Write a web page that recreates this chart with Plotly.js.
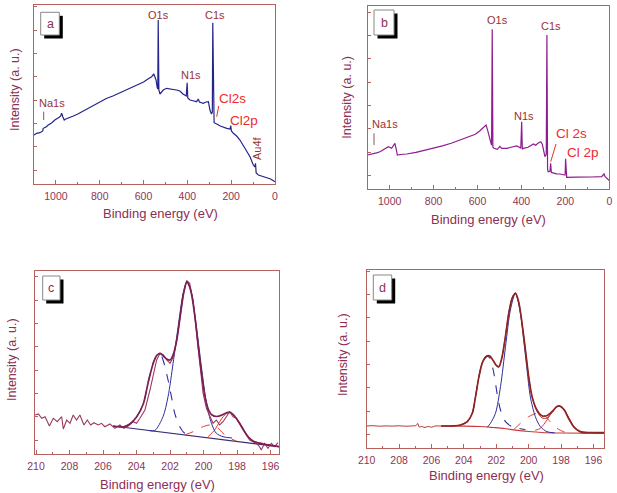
<!DOCTYPE html>
<html><head><meta charset="utf-8">
<script src="https://cdn.plot.ly/plotly-3.0.1.min.js"></script>
<style>html,body{margin:0;padding:0;background:#fff}#chart{width:617px;height:493px}</style>
</head><body><div id="chart"></div>
<script>
// ---------- Panel a: survey spectrum ----------
const surveyA_eV = [1100,1088,1073,1060,1058,1045,1035,1020,1005,995,985,978,974,968,962,955,944,920,900,880,860,840,814,790,770,740,720,700,680,662,640,620,600,580,563,553,548,543,538,535,533,530,525,510,495,470,450,434,420,405,401,398,388,370,358,350,345,327,315,304,297,290,286,284,281,278,266,250,220,205,202,199,190,175,160,145,130,114,99,92,89,86,76,60,45,38,20,0];
const surveyA_I  = [49,50.7,51.3,53,55.7,57,59,61,64,65,66.7,68,70.7,67,64,65,65.7,68,70,72.5,75,77,80.7,83,85.5,88,90,92,94,95.7,98,100,102,105,107.3,110,107,104,97,95,164,94,90,94,95.7,95,94,93,90,88,101.3,86,84,83,82.3,85,82,80.7,82,82.3,74,70,72,161.3,63,61.3,60,58,55.7,55,58.5,53,50.7,48,44,39,34,27.3,19,17,20.7,11,9,8,7,6.3,5,2.3];

// ---------- Panel b: survey spectrum ----------
const surveyB_eV = [1100,1085,1075,1060,1044,1025,1006,991,982,976,970,965,950,923,880,840,801,760,720,680,640,610,589,570,561,555,546,540,536,533,530,525,510,498,490,467,445,422,410,403,399,396,392,370,346,335,325,312,305,301,293,287,284,281,278,270,267,264,261,240,224,205,201,199,197,194,150,118,80,35,27,24,20,15,0];
const surveyB_I  = [34.3,35,35.3,36.5,37.6,40,42.6,41,44,46,40,34.3,34.8,35.3,37,39,41,43.5,46,49.3,52,55,58.6,62,64.3,60,51,48,44,160,42,41,40,43,41,41,42,43.3,42,41,67.6,40,41,42,45.3,44,46,47.6,45,41,32.6,35,154.3,20,17.6,18,26,17,16.6,15.5,15.3,14.3,14.3,30.6,13,12,12.2,12,12.3,12.6,14,15.3,13,12,8.6];

// ---------- Panel c: Cl 2p high resolution ----------
const c_raw_eV = [210.06,209.86,209.66,209.46,209.2,208.97,208.73,208.47,208.37,208.17,207.97,207.78,207.58,207.38,207.14,206.94,206.74,206.54,206.29,206.09,205.89,205.59,205.29,205.0,204.76,204.5,204.2,204.0,203.8,203.5,203.2,203.0,202.8,202.6,202.4,202.2,202.0,201.8,201.6,201.4,201.2,201.0,200.83,200.63,200.43,200.23,200.03,199.83,199.63,199.44,199.24,199.04,198.84,198.64,198.44,198.24,198.05,197.85,197.65,197.45,197.25,197.05,196.85,196.66,196.56,196.36,196.16,195.96,195.76,195.56];
const c_raw_I  = [39,40,35.7,37.3,28,35.7,32.3,37.3,25,34,30.7,39,34,39,29,34,29,31.3,29,30.7,27.3,30,25.7,29,25.7,28,32.3,30.7,35.7,44,64,79,94,100.7,99,94,90.7,97.3,114,137.3,160.7,173.3,170.7,154,120.7,87.3,60.7,45.7,37.3,30.7,34,29,32.3,37.3,42.3,37.3,35.7,30.7,25.7,19,14,12.3,10.7,7.3,4,10.7,5.7,10.7,7.3,11.3];
const c_env_eV = [205.4,204.8,204.4,204.0,203.6,203.3,203.0,202.8,202.6,202.4,202.2,202.0,201.8,201.6,201.4,201.2,201.0,200.85,200.7,200.5,200.3,200.1,199.9,199.7,199.5,199.2,198.9,198.6,198.45,198.2,197.9,197.6,197.3,197.0,196.6,196.0,195.5];
const c_env_I  = [28,27,30,37,50,72,91,98.5,100.7,98,95,94,100,114,137,160,172.3,168,158,135,105,78,56,44,39,37.5,39,41.5,42,39,32,23.5,16.5,12.5,10.5,8.7,7.3];
const c_p1_eV = [203.3,202.91,202.42,202.12,201.82,201.52,201.22,200.99,200.72,200.43,200.13,199.83,199.53,199.24,198.84,198.3];
const c_p1_I  = [23.5,23.5,37.3,57.3,90.7,127.3,160.7,172.3,160.7,127.3,87.3,50.7,30.7,20.7,17.3,16];
const c_p2_eV = [204.8,204.4,204.0,203.6,203.31,203.01,202.81,202.61,202.42,202.12,201.92,201.72,201.42,201.12,200.8];
const c_p2_I  = [27,30,37,50,72,91,98,100.7,94,74,57.3,40.7,27.3,20.7,19.5];
const c_p3_eV = [201.12,200.63,200.13,199.63,199.24,198.84,198.44,198.04];
const c_p3_I  = [19,22.3,26.7,29,27.3,20.7,15.7,13];
const c_p4_eV = [199.73,199.34,199.04,198.74,198.48,198.14,197.75,197.35,196.95,196.46];
const c_p4_I  = [17.3,24,32.3,39,41.3,37.3,27.3,17.3,12.3,10.7];
const c_base_eV = [205.4,195.5];
const c_base_I  = [28,7.3];

// ---------- Panel d: Cl 2p high resolution ----------
const d_raw_eV = [210,209.6,209.2,208.8,208.4,208.0,207.6,207.2,206.95,206.86,206.75,206.6,206.4,206.2,206.0,205.8,205.4,204.9,204.5,204.2,203.79,203.48,203.28,203.07,202.85,202.6,202.4,202.2,202.0,201.84,201.66,201.45,201.23,201.02,200.82,200.62,200.41,200.2,200.0,199.79,199.49,199.18,198.9,198.56,198.26,198.08,197.8,197.54,197.23,196.82,196.5,196.21,195.8,195.35];
const d_raw_I  = [22.3,22.6,22.1,22.4,22.2,22.5,22.1,22.4,22.8,25,21.3,21.8,20.8,21.9,21,22.2,22.3,22.2,22.6,23.5,27,35.5,52,72,86.5,92.5,92,87.5,82.5,81,90.5,110.5,135.5,150.5,155.5,146,124.5,98,71,51,37,30.5,30,35.5,41.5,42.5,38.5,30.5,21.5,16.5,15.2,15.9,15.3,15.4];
const d_env_eV = [205.4,204.6,204.2,203.79,203.48,203.28,203.07,202.85,202.6,202.4,202.2,202.0,201.84,201.66,201.45,201.23,201.02,200.82,200.62,200.41,200.2,200.0,199.79,199.49,199.18,198.9,198.56,198.26,198.08,197.8,197.54,197.23,196.82,196.21,195.35];
const d_env_I  = [22.3,22.5,23.3,26.7,35,51.7,71.7,86,92,92.3,88,83,81.7,90,110,135,150,155,146.7,125,98.3,71.7,51.7,38.3,32.5,32.5,36.7,41.7,42.3,38.3,30,21.7,16.7,15.7,15.6];
const d_p1_eV = [202.56,202.36,202.05,201.74,201.43,201.13,200.82,200.51,200.31,200.1,199.9,199.59,199.28,198.87,198.4];
const d_p1_I  = [21,25,35,61.6,101.6,138.3,155,135,108.3,78.3,51.7,31.7,21.7,16.6,15.5];
const d_p2_eV = [204.2,203.79,203.48,203.28,203.07,202.85,202.6,202.4,202.15,201.95,201.74,201.43,201.02,200.61,200.2];
const d_p2_I  = [23.3,26.7,35,51.7,71.7,86,91.6,90.5,75,55,38.3,26.6,21.6,20,18.5];
const d_p3_eV = [200.9,200.51,200.0,199.48,199.08,198.67,198.25,197.85,197.5];
const d_p3_I  = [19,25,31.6,35,33.3,26.6,20,16.6,15.5];
const d_p4_eV = [199.6,199.28,198.87,198.56,198.25,198.05,197.74,197.44,197.13,196.72,196.3];
const d_p4_I  = [18,20,28.3,36.6,41.6,41.6,36.6,28.3,20,15.6,15.2];
const d_base_eV = [205.4,204.0,203.0,202.2,201.5,200.8,200.0,199.2,198.0,195.35];
const d_base_I  = [22.3,22.2,21.8,20.8,19.8,18.2,16.8,15.8,15.3,15];

const xTitle = "Binding energy (eV)";
const yTitle = "Intensity (a. u.)";

// ---------- styling ----------
const W = 617, H = 493;
const FONT = "Arial, 'Liberation Sans', sans-serif";
const frame = "#b8625f";
const tickTxt = "#8c3556";
const titleTxt = "#8c2f55";
const peakTxt = "#9a3232";
const redTxt = "#ee2a2a";

function px(x){return x/W;}
function py(y){return 1 - y/H;}

function tr(x, y, xa, ya, color, width, dash, shape){
  return {x:x, y:y, xaxis:xa, yaxis:ya, type:'scatter', mode:'lines',
    line:{color:color, width:width, dash:dash||'solid', shape:shape||'linear', smoothing:0.8},
    hoverinfo:'skip', showlegend:false};
}

const data = [
  tr(surveyA_eV, surveyA_I, 'x', 'y', '#24248c', 1.2),
  tr(surveyB_eV, surveyB_I, 'x2', 'y2', '#8e1d8e', 1.2),
  tr(c_base_eV, c_base_I, 'x3', 'y3', '#3b2a7c', 1.2),
  tr(c_p3_eV, c_p3_I, 'x3', 'y3', '#e8382e', 1, 'dash', 'spline'),
  tr(c_p4_eV, c_p4_I, 'x3', 'y3', '#e8382e', 1, 'solid', 'spline'),
  tr(c_p2_eV, c_p2_I, 'x3', 'y3', '#2e2e9e', 1.1, 'dash', 'spline'),
  tr(c_p1_eV, c_p1_I, 'x3', 'y3', '#2e2e9e', 1, 'solid', 'spline'),
  tr(c_raw_eV, c_raw_I, 'x3', 'y3', '#9a3a5c', 1.1, 'solid'),
  tr(c_env_eV, c_env_I, 'x3', 'y3', '#7b1f52', 1.7, 'solid', 'spline'),
  tr(d_base_eV, d_base_I, 'x4', 'y4', '#c83a3a', 1.2, 'solid', 'spline'),
  tr(d_p3_eV, d_p3_I, 'x4', 'y4', '#e8382e', 1, 'dash', 'spline'),
  tr(d_p4_eV, d_p4_I, 'x4', 'y4', '#e8382e', 1, 'solid', 'spline'),
  tr(d_p2_eV, d_p2_I, 'x4', 'y4', '#2e2e9e', 1.1, 'dash', 'spline'),
  tr(d_p1_eV, d_p1_I, 'x4', 'y4', '#2e2e9e', 1, 'solid', 'spline'),
  tr(d_raw_eV, d_raw_I, 'x4', 'y4', '#b03838', 1, 'solid', 'spline'),
  tr(d_env_eV, d_env_I, 'x4', 'y4', '#8e2424', 1.7, 'solid', 'spline')
];

function xax(dom, yanchor, range, dtick, minor){
  return {domain:dom, anchor:yanchor, range:range, autorange:false,
    showline:true, mirror:true, linecolor:frame, linewidth:1,
    ticks:'inside', ticklen:4, tickcolor:frame, tickwidth:1,
    dtick:dtick, tick0:0, minor:{ticks:'inside', ticklen:2, dtick:minor, tickcolor:frame},
    showgrid:false, zeroline:false,
    tickfont:{family:FONT, size:10.5, color:tickTxt}, ticklabelstandoff:2};
}
function yax(dom, xanchor, range){
  return {domain:dom, anchor:xanchor, range:range, autorange:false,
    showline:true, mirror:true, linecolor:frame, linewidth:1,
    ticks:'inside', ticklen:3, tickcolor:frame, tick0:14, dtick:23.3,
    showticklabels:false, showgrid:false, zeroline:false};
}

const layout = {
  width:W, height:H, margin:{l:0,r:0,t:0,b:0},
  paper_bgcolor:'#ffffff', plot_bgcolor:'#ffffff',
  showlegend:false,
  font:{family:FONT},
  xaxis:  xax([px(34),px(275)], 'y', [1100,0], 200, 100),
  yaxis:  yax([py(184),py(5)], 'x', [0,179]),
  xaxis2: xax([px(367.7),px(609.3)], 'y2', [1100,0], 200, 100),
  yaxis2: yax([py(189.3),py(5.7)], 'x2', [0,183.6]),
  xaxis3: xax([px(35),px(279)], 'y3', [210.06,195.5], 2, 1),
  yaxis3: yax([py(454),py(270.7)], 'x3', [0,183.3]),
  xaxis4: xax([px(366.7),px(604)], 'y4', [210,195.35], 2, 1),
  yaxis4: yax([py(448.3),py(270)], 'x4', [0,178.3]),
  annotations:[], shapes:[]
};

function ann(text, x, y, size, color, angle){
  layout.annotations.push({text:text, xref:'paper', yref:'paper', x:px(x), y:py(y),
    xanchor:'center', yanchor:'middle', showarrow:false, textangle:angle||0,
    font:{family:FONT, size:size, color:color}});
}
function seg(x0,y0,x1,y1,color){
  layout.shapes.push({type:'line', xref:'paper', yref:'paper', x0:px(x0), y0:py(y0), x1:px(x1), y1:py(y1),
    line:{color:color, width:1}});
}
function letterBox(x0,y0,x1,y1,letter){
  layout.shapes.push({type:'rect', xref:'paper', yref:'paper', x0:px(x0+3.5), y0:py(y0+3.5), x1:px(x1+3.5), y1:py(y1+3.5),
    fillcolor:'#000', line:{width:0}});
  layout.shapes.push({type:'rect', xref:'paper', yref:'paper', x0:px(x0), y0:py(y0), x1:px(x1), y1:py(y1),
    fillcolor:'#fff', line:{color:'#888', width:1}});
  ann(letter, (x0+x1)/2, (y0+y1)/2, 12.5, '#8c2f55');
}

// axis titles
ann(xTitle, 160, 214, 13, titleTxt);
ann(xTitle, 488, 219, 13, titleTxt);
ann(xTitle, 157, 484, 13, titleTxt);
ann(xTitle, 486.7, 475.5, 13, titleTxt);
ann(yTitle, 15, 90, 12.5, titleTxt, -90);
ann(yTitle, 346.7, 97, 12.5, titleTxt, -90);
ann(yTitle, 12, 360, 12.5, titleTxt, -90);
ann(yTitle, 343, 355, 12.5, titleTxt, -90);

// peak labels panel a
ann('O1s', 159, 15, 11, peakTxt);
ann('C1s', 215, 15, 11, peakTxt);
ann('N1s', 190.7, 75, 11, peakTxt);
ann('Na1s', 52.3, 103, 11, peakTxt);
ann('Cl2s', 232.5, 99, 13.5, redTxt);
ann('Cl2p', 244, 120, 13.5, redTxt);
ann('Au4f', 257, 148, 11, peakTxt, -90);
seg(43.7,111.7,43.7,120, '#9a5050');
seg(218.7,106,216.7,116.7, redTxt);
// peak labels panel b
ann('O1s', 497.3, 20, 11, peakTxt);
ann('C1s', 550.7, 26, 11, peakTxt);
ann('N1s', 524.3, 116, 11, peakTxt);
ann('Na1s', 385, 124.3, 11, peakTxt);
ann('Cl 2s', 571, 134, 13.5, redTxt);
ann('Cl 2p', 583, 152.7, 13.5, redTxt);
seg(374,133.3,374,145, '#9a5050');
seg(556,144,550.7,161.7, redTxt);

letterBox(40.7,12.3,59.3,35,'a');
letterBox(374,10,394,35,'b');
letterBox(42.7,276,60,300,'c');
letterBox(373.3,275,391.7,300,'d');

Plotly.newPlot('chart', data, layout, {displayModeBar:false, staticPlot:true});
</script>
</body></html>
